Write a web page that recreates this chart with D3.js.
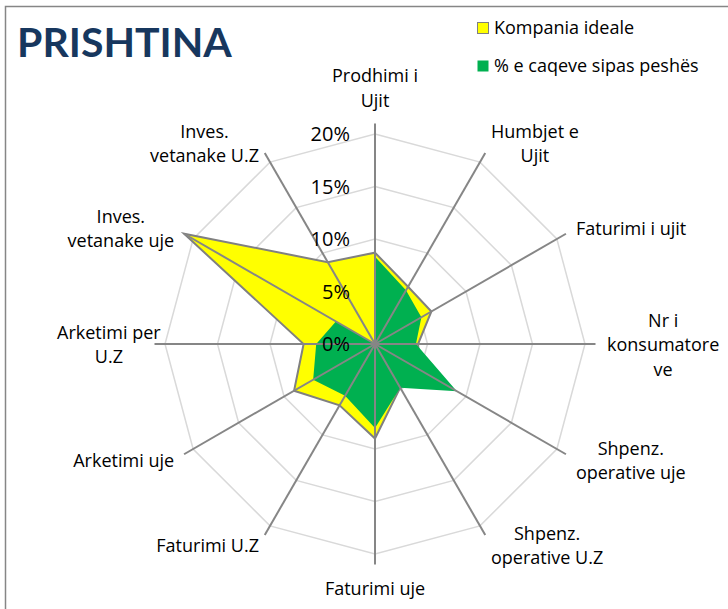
<!DOCTYPE html>
<html>
<head>
<meta charset="utf-8">
<script src="https://cdn.jsdelivr.net/npm/d3@7"></script>
<style>
body { margin: 0; background: #fff; }
text { font-family: "Open Sans", sans-serif; fill: #000; }
.title { font-family: Lato, "Open Sans", sans-serif; font-weight: bold; fill: #17375E; }
</style>
</head>
<body>
<div id="chart"></div>
<script>
// categories, clockwise from the top (lines as wrapped in the picture)
var categories = [
	["Prodhimi i", "Ujit"],
	["Humbjet e", "Ujit"],
	["Faturimi i ujit"],
	["Nr i", "konsumatore", "ve"],
	["Shpenz.", "operative uje"],
	["Shpenz.", "operative U.Z"],
	["Faturimi uje"],
	["Faturimi U.Z"],
	["Arketimi uje"],
	["Arketimi per", "U.Z"],
	["Inves.", "vetanake uje"],
	["Inves.", "vetanake U.Z"]
];
var seriesNames = ["Kompania ideale", "% e caqeve sipas peshës"];
var idealValues = [8.7, 6.3, 6.2, 4.1, 5.0, 4.8, 9.0, 6.75, 8.9, 6.8, 21.0, 9.0];
var targetValues = [8.3, 5.9, 5.1, 3.9, 9.0, 4.8, 8.0, 5.7, 6.8, 5.6, 4.3, 0.0];
var tickValues = [0, 5, 10, 15, 20];
var axisMax = 21;

var width = 728, height = 609;
var cx = 375, cy = 344;

var svg = d3.select("#chart").append("svg")
	.attr("width", width)
	.attr("height", height);

//frame
svg.append("rect")
	.attr("x", 5.5).attr("y", 6.5)
	.attr("width", 740).attr("height", 640)
	.attr("fill", "none")
	.attr("stroke", "#868686")
	.attr("stroke-width", 1.5);

//title
svg.append("text")
	.attr("class", "title")
	.attr("x", 17)
	.attr("y", 57)
	.style("font-size", "41px")
	.text("PRISHTINA");

var g = svg.append("g")
	.attr("transform", "translate(" + cx + "," + cy + ")");

var rScale = d3.scaleLinear().domain([0, 20]).range([0, 210]);
var n = categories.length;
var angle = function(i) { return i * 2 * Math.PI / n; };

var radarLine = d3.lineRadial()
	.angle(function(d, i) { return angle(i); })
	.radius(function(d) { return rScale(d); })
	.curve(d3.curveLinearClosed);

//grid rings
g.selectAll(".ring")
	.data(tickValues.filter(function(d) { return d > 0; }))
	.enter().append("path")
	.attr("class", "ring")
	.attr("d", function(t) { return radarLine(d3.range(n).map(function() { return t; })); })
	.attr("fill", "none")
	.attr("stroke", "#d9d9d9")
	.attr("stroke-width", 1.5);

//series
g.append("path")
	.attr("d", radarLine(idealValues))
	.attr("fill", "#ffff00")
	.attr("stroke", "#808080")
	.attr("stroke-width", 2)
	.attr("stroke-linejoin", "miter");
g.append("path")
	.attr("d", radarLine(targetValues))
	.attr("fill", "#00b050");

//spokes
g.selectAll(".spoke")
	.data(d3.range(n))
	.enter().append("line")
	.attr("x1", 0).attr("y1", 0)
	.attr("x2", function(i) { return rScale(axisMax) * Math.sin(angle(i)); })
	.attr("y2", function(i) { return -rScale(axisMax) * Math.cos(angle(i)); })
	.attr("stroke", "#868686")
	.attr("stroke-width", 2);

//tick labels
g.selectAll(".tick")
	.data(tickValues)
	.enter().append("text")
	.attr("x", -25)
	.attr("y", function(d) { return -rScale(d); })
	.attr("dy", "0.35em")
	.attr("text-anchor", "end")
	.style("font-size", "20px")
	.text(function(d) { return d + "%"; });

//category labels
var lineH = 24.5;
var labelR = 232;
categories.forEach(function(lines, i) {
	var a = angle(i), s = Math.sin(a), c = Math.cos(a);
	var px = labelR * s, py = -labelR * c;
	var t = g.append("text")
		.attr("text-anchor", "middle")
		.style("font-size", "18px");
	lines.forEach(function(l, j) {
		t.append("tspan").attr("x", 0).attr("dy", j === 0 ? 0 : lineH).text(l);
	});
	var w = t.node().getBBox().width;
	var h = lines.length * lineH;
	var x, top;
	if (s > 0.01) x = px + w / 2;
	else if (s < -0.01) x = px - w / 2;
	else x = px;
	if (Math.abs(s + 1) < 1e-6) x += 18; //excel sets the left one closer in
	if (c > 0.99) top = py - h;
	else if (c < -0.99) top = py;
	else top = py - h / 2;
	t.attr("transform", "translate(" + x + "," + (top + lineH / 2) + ")")
		.attr("dominant-baseline", "central");
	t.selectAll("tspan").attr("dominant-baseline", "central");
});

//legend
var legend = svg.append("g").attr("transform", "translate(477,22)");
var legendColors = ["#ffff00", "#00b050"];
seriesNames.forEach(function(name, i) {
	legend.append("rect")
		.attr("x", 0.5).attr("y", i * 38 + 0.5)
		.attr("width", 11).attr("height", 11)
		.attr("fill", legendColors[i])
		.attr("stroke", i === 0 ? "#808080" : "none");
	legend.append("text")
		.attr("x", 17)
		.attr("y", i * 38 + 6)
		.attr("dy", "0.35em")
		.style("font-size", "18px")
		.text(name);
});
</script>
</body>
</html>
